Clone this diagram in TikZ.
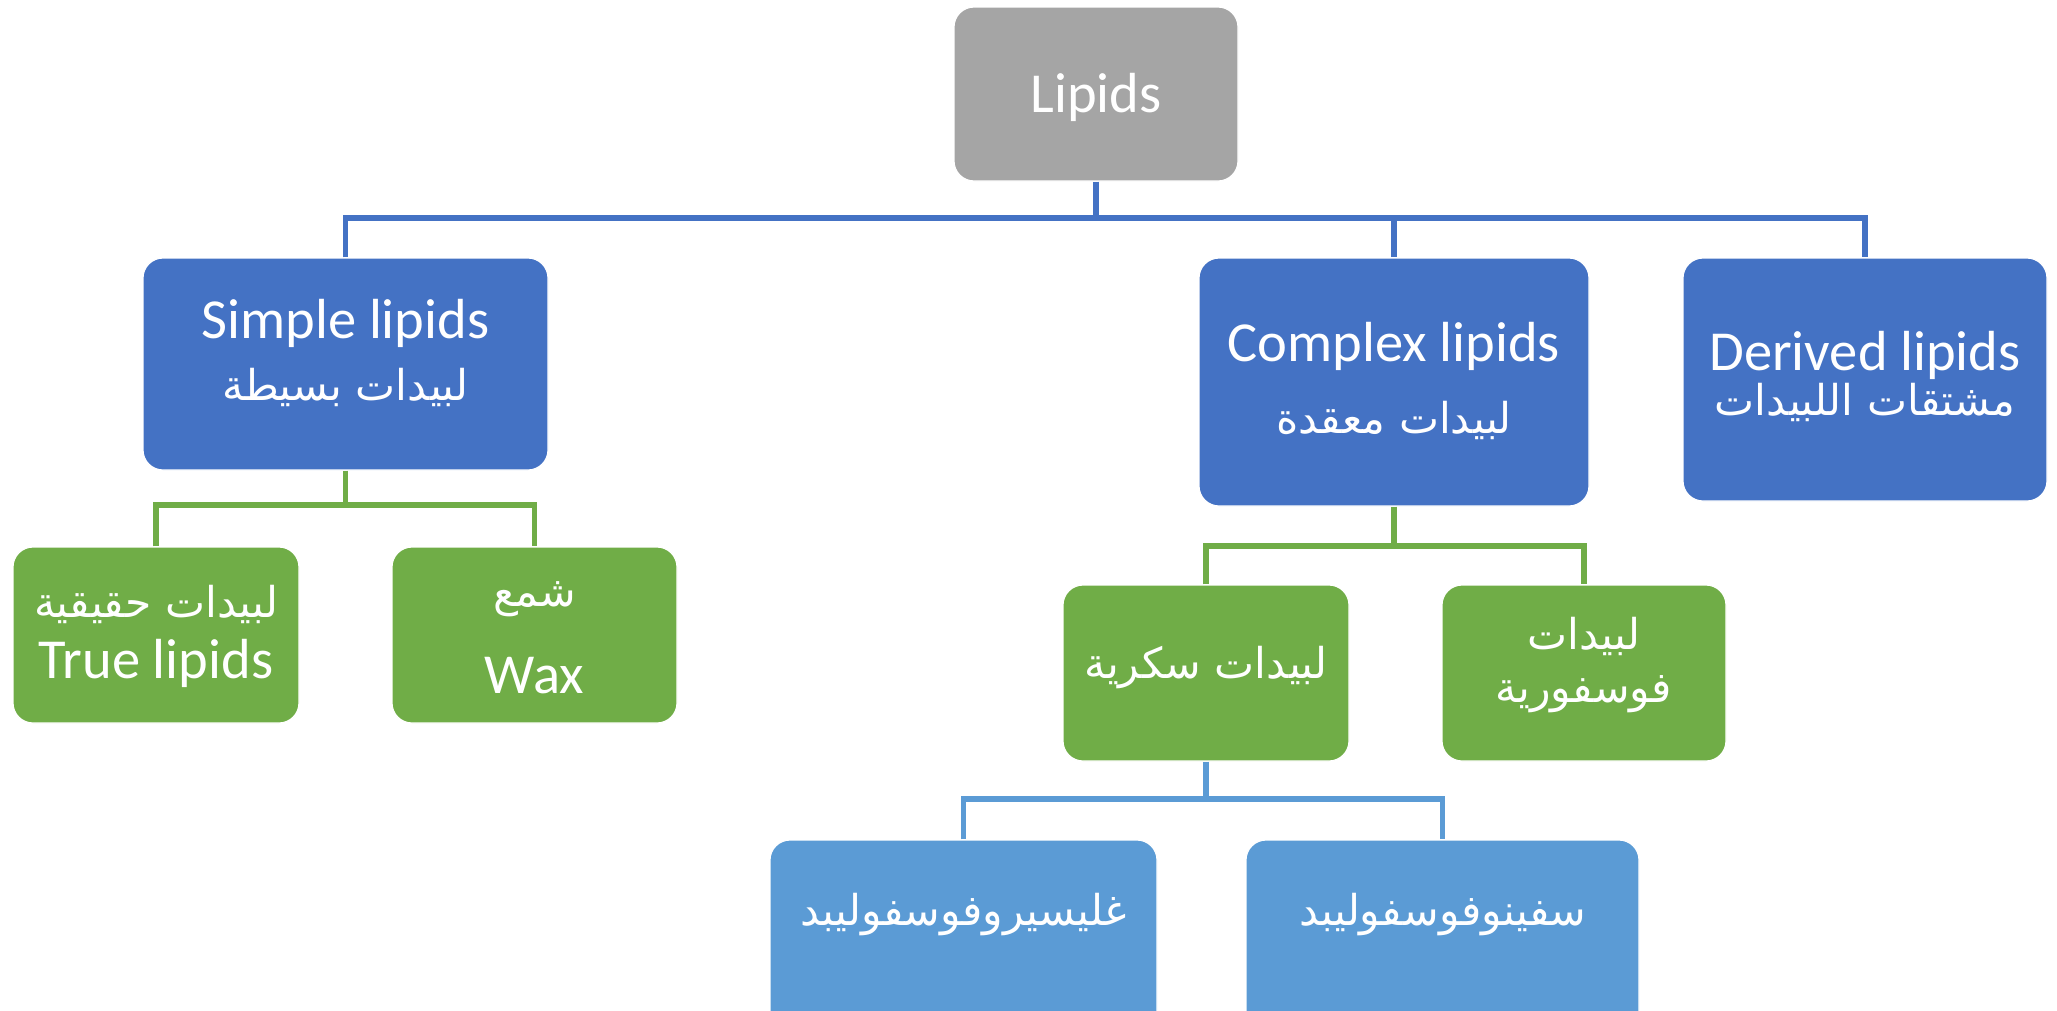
\documentclass[tikz,border=0pt]{standalone}
\usepackage{fontspec}
\setmainfont{Carlito}
\newfontfamily\arabicfont[Script=Arabic]{DejaVu Sans}
\TeXXeTstate=1
\newcommand\artxt[1]{{\arabicfont\fontsize{42.5}{50}\selectfont\beginR #1\endR}}
\definecolor{cgray}{HTML}{A5A5A5}
\definecolor{cblue}{HTML}{4472C4}
\definecolor{cgreen}{HTML}{70AD47}
\definecolor{clblue}{HTML}{5B9BD5}
\tikzset{
  box/.style={rounded corners=20pt, draw=white, line width=1.2pt, inner sep=0pt},
  graybox/.style={box, fill=cgray},
  bluebox/.style={box, fill=cblue},
  greenbox/.style={box, fill=cgreen},
  lbluebox/.style={box, fill=clblue},
  lat/.style={anchor=base, text=white, inner sep=0pt, font=\fontsize{56.5}{66}\selectfont},
  arb/.style={anchor=base, text=white, inner sep=0pt},
  bline/.style={draw=cblue, line width=5.5pt},
  gline/.style={draw=cgreen, line width=5.5pt},
  lline/.style={draw=clblue, line width=5.5pt},
}
\begin{document}
\begin{tikzpicture}[x=1pt,y=-1pt]
\useasboundingbox (0,0) rectangle (2057,1010);
\clip (0,0) rectangle (2057,1010);
% boxes
\node[graybox, minimum width=284, minimum height=174] (lipids) at (1096,94) {};
\node[bluebox, minimum width=405, minimum height=212] (simple) at (345.5,364) {};
\node[bluebox, minimum width=390, minimum height=248] (complex) at (1394,382) {};
\node[bluebox, minimum width=364, minimum height=243] (derived) at (1865,379.5) {};
\node[greenbox, minimum width=286, minimum height=176] (truel) at (156,635) {};
\node[greenbox, minimum width=285, minimum height=176] (wax) at (534.5,635) {};
\node[greenbox, minimum width=286, minimum height=176] (sugar) at (1206,673) {};
\node[greenbox, minimum width=284, minimum height=176] (phos) at (1584,673) {};
\node[lbluebox, minimum width=387, minimum height=190] (glyc) at (963.5,935) {};
\node[lbluebox, minimum width=393, minimum height=190] (sphi) at (1442.5,935) {};
% texts
\node[lat] (tLipids) at (1096,112) {Lipids};
\node[lat] (tSimple) at (345.5,338) {Simple lipids};
\node[arb] (aSimple) at (345.5,400) {\artxt{لبيدات بسيطة}};
\node[lat] (tComplex) at (1394,361) {Complex lipids};
\node[arb] (aComplex) at (1394,433) {\artxt{لبيدات معقدة}};
\node[lat] (tDerived) at (1865,370) {Derived lipids};
\node[arb] (aDerived) at (1865,415) {\artxt{مشتقات اللبيدات}};
\node[arb] (aTrue) at (156,617) {\artxt{لبيدات حقيقية}};
\node[lat] (tTrue) at (156,678) {True lipids};
\node[arb] (aWax) at (534.5,606) {\artxt{شمع}};
\node[lat] (tWax) at (534.5,693) {Wax};
\node[arb] (aSugar) at (1206,678) {\artxt{لبيدات سكرية}};
\node[arb] (aPhos1) at (1584,649) {\artxt{لبيدات}};
\node[arb] (aPhos2) at (1584,702) {\artxt{فوسفورية}};
\node[arb] (aGlyc) at (963.5,925) {\artxt{غليسيروفوسفوليبد}};
\node[arb] (aSphi) at (1442.5,925) {\artxt{سفينوفوسفوليبد}};
% connectors
\coordinate (bus) at (1096,218);
\draw[bline] (lipids.south) -- (bus);
\draw[bline] (simple.north) |- (bus) -| (derived.north);
\draw[bline] (bus) -| (complex.north);
\coordinate (gbus1) at (345.5,505);
\draw[gline] (simple.south) -- (gbus1);
\draw[gline] (truel.north) |- (gbus1) -| (wax.north);
\coordinate (gbus2) at (1394,546);
\draw[gline] (complex.south) -- (gbus2);
\draw[gline] (sugar.north) |- (gbus2) -| (phos.north);
\coordinate (lbus) at (1206,799);
\draw[lline] (sugar.south) -- (lbus);
\draw[lline] (glyc.north) |- (lbus) -| (sphi.north);
\end{tikzpicture}
\end{document}
